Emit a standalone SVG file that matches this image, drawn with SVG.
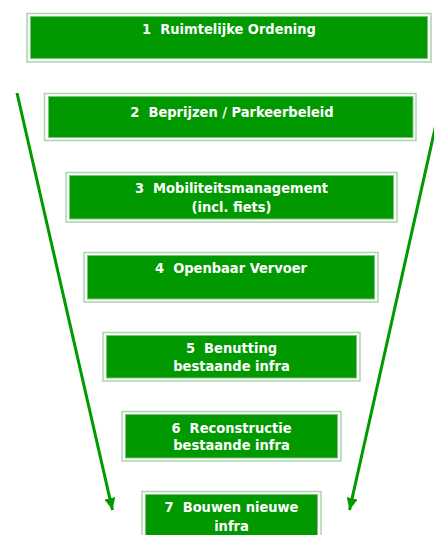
<svg xmlns="http://www.w3.org/2000/svg" width="434" height="535" viewBox="0 0 434 535">
  <style>
    .frame { fill: #ffffff; stroke: #a9d6a9; stroke-width: 1.5; }
    .panel { fill: #009900; stroke: #7cc47c; stroke-width: 1; }
    .label { fill: #ffffff; font-family: "DejaVu Sans Condensed", "DejaVu Sans", sans-serif; font-stretch: condensed; font-weight: bold; font-size: 14.5px; text-anchor: middle; white-space: pre; }
    .arrow { stroke: #009900; stroke-width: 3; fill: none; }
  </style>
  <defs>
    <marker id="head" markerUnits="userSpaceOnUse" markerWidth="13" markerHeight="11" refX="12" refY="5.5" orient="auto">
      <path d="M0,0 L12,5.5 L0,11 Z" fill="#009900"/>
    </marker>
  </defs>

  <rect width="434" height="535" fill="#ffffff"/>

  <!-- funnel arrows -->
  <g id="connectors">
    <line class="arrow" x1="17" y1="93" x2="112.5" y2="510" marker-end="url(#head)"/>
    <line class="arrow" x1="443" y1="93" x2="349.5" y2="510" marker-end="url(#head)"/>
  </g>

  <g id="step1">
    <rect class="frame" x="27" y="13.5" width="404" height="48.5"/>
    <rect class="panel" x="30.5" y="16.5" width="397" height="42"/>
    <text class="label" x="229" y="34" xml:space="preserve">1  Ruimtelijke Ordening</text>
  </g>

  <g id="step2">
    <rect class="frame" x="44.5" y="93.5" width="371.5" height="47"/>
    <rect class="panel" x="48.5" y="96.5" width="364.5" height="41"/>
    <text class="label" x="232" y="117" xml:space="preserve">2  Beprijzen / Parkeerbeleid</text>
  </g>

  <g id="step3">
    <rect class="frame" x="66" y="172.5" width="331" height="49.5"/>
    <rect class="panel" x="69.5" y="175.5" width="324" height="43.5"/>
    <text class="label" x="231.5" y="192.5" xml:space="preserve">3  Mobiliteitsmanagement</text>
    <text class="label" x="231.5" y="211.5">(incl. fiets)</text>
  </g>

  <g id="step4">
    <rect class="frame" x="84" y="252.5" width="294" height="49.5"/>
    <rect class="panel" x="87.5" y="255.5" width="287" height="43.5"/>
    <text class="label" x="231" y="273" xml:space="preserve">4  Openbaar Vervoer</text>
  </g>

  <g id="step5">
    <rect class="frame" x="103" y="332.5" width="257" height="48.5"/>
    <rect class="panel" x="106.5" y="335.5" width="250" height="42.5"/>
    <text class="label" x="231.5" y="352.5" xml:space="preserve">5  Benutting</text>
    <text class="label" x="231.5" y="370.5">bestaande infra</text>
  </g>

  <g id="step6">
    <rect class="frame" x="122" y="411.5" width="219" height="49.5"/>
    <rect class="panel" x="125.5" y="414.5" width="212" height="43.5"/>
    <text class="label" x="231.5" y="432.5" xml:space="preserve">6  Reconstructie</text>
    <text class="label" x="231.5" y="450">bestaande infra</text>
  </g>

  <g id="step7">
    <rect class="frame" x="142" y="491.5" width="179" height="50"/>
    <rect class="panel" x="145.5" y="494.5" width="172" height="44"/>
    <text class="label" x="231.5" y="512.3" xml:space="preserve">7  Bouwen nieuwe</text>
    <text class="label" x="231.5" y="530.5">infra</text>
  </g>
</svg>
